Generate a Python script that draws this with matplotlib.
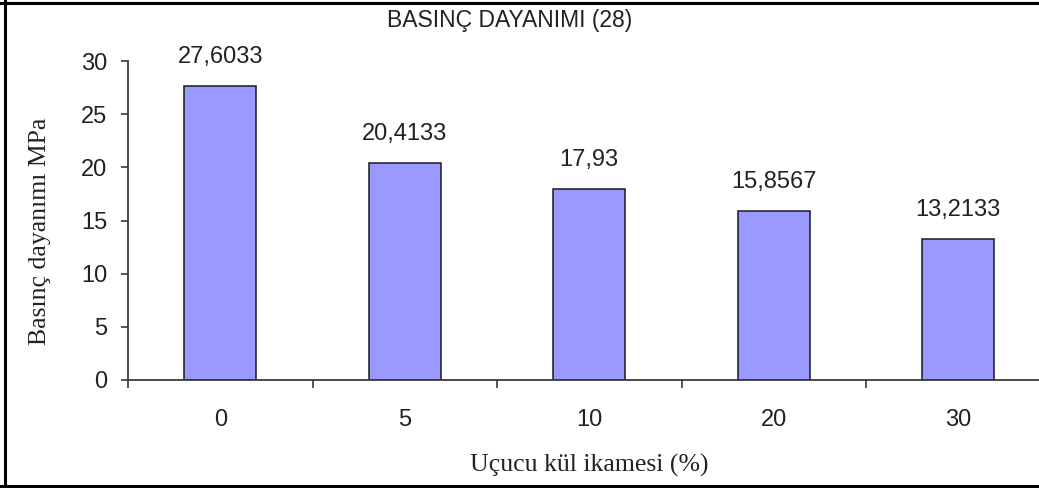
import matplotlib
matplotlib.use("Agg")
import matplotlib.pyplot as plt
from matplotlib.lines import Line2D

# Data
categories = ["0", "5", "10", "20", "30"]
values = [27.6033, 20.4133, 17.93, 15.8567, 13.2133]
value_labels = ["27,6033", "20,4133", "17,93", "15,8567", "13,2133"]
y_ticks = [0, 5, 10, 15, 20, 25, 30]

title = "BASINÇ DAYANIMI (28)"
x_label = "Uçucu kül ikamesi (%)"
y_label = "Basınç dayanımı MPa"

W, H, DPI = 1039, 488, 100
fig = plt.figure(figsize=(W / DPI, H / DPI), dpi=DPI)
fig.patch.set_facecolor("white")

sans = ["Liberation Sans", "DejaVu Sans"]
serif = ["Liberation Serif", "DejaVu Serif"]
axis_col = "#3a3a3a"
text_col = "#222222"

# plot area in pixel coordinates (the category axis runs past the right edge)
x0, x_end = 128, 128 + 5 * 184.5
y_bottom, y_top = 380, 61
ax = fig.add_axes([x0 / W, (H - y_bottom) / H, (x_end - x0) / W, (y_bottom - y_top) / H])
ax.set_facecolor("none")

x = list(range(len(categories)))
ax.bar(x, values, width=0.39, color="#9999FF", edgecolor="#1a1a1a", linewidth=1.1, zorder=2)

for xi, v, lab in zip(x, values, value_labels):
    ax.annotate(lab, (xi, v), xytext=(0, 13), textcoords="offset points",
                ha="center", va="bottom", fontsize=17, family=sans, color=text_col)

ax.set_xlim(-0.5, len(categories) - 0.5)
ax.set_ylim(0, 30)

for s in ["top", "right"]:
    ax.spines[s].set_visible(False)
for s in ["left", "bottom"]:
    ax.spines[s].set_color(axis_col)
    ax.spines[s].set_linewidth(1.3)

ax.set_yticks(y_ticks)
ax.set_yticklabels([str(t) for t in y_ticks], fontsize=17, family=sans, color=text_col)
ax.tick_params(axis="y", direction="out", length=5, width=1.2, color=axis_col, pad=10)

ax.set_xticks(x)
ax.set_xticklabels(categories, fontsize=17, family=sans, color=text_col)
ax.tick_params(axis="x", which="major", length=0, pad=21)
ax.set_xticks([i - 0.5 for i in range(len(categories) + 1)], minor=True)
ax.tick_params(axis="x", which="minor", direction="out", length=6, width=1.2, color=axis_col)

# texts placed in figure pixels
fig.text(510 / W, 1 - 21 / H, title, ha="center", va="center", fontsize=16.5, family=sans, color=text_col)
fig.text(589 / W, 1 - 465 / H, x_label, ha="center", va="center", fontsize=18.5, family=serif, color=text_col)
fig.text(40 / W, 1 - 231 / H, y_label, ha="center", va="center", rotation=90, fontsize=18.5, family=serif, color=text_col)

# outer frame (left, top, bottom)
lw = 2.2
fig.add_artist(Line2D([4.5 / W, 4.5 / W], [0, 1], transform=fig.transFigure, color="black", lw=lw))
fig.add_artist(Line2D([0, 1], [1 - 3 / H, 1 - 3 / H], transform=fig.transFigure, color="black", lw=lw))
fig.add_artist(Line2D([0, 1], [2 / H, 2 / H], transform=fig.transFigure, color="black", lw=lw))

fig.savefig("out.png", dpi=DPI)
